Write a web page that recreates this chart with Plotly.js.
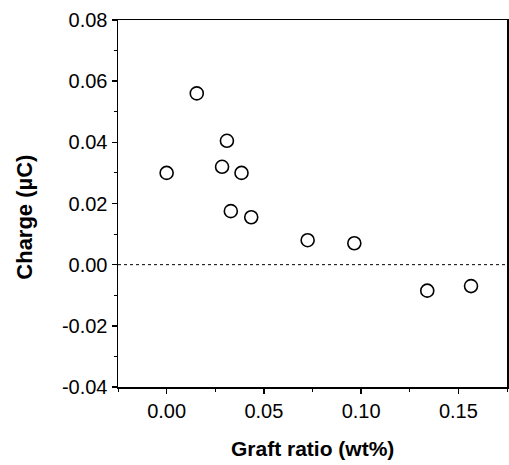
<!DOCTYPE html>
<html>
<head>
<meta charset="utf-8">
<script src="https://cdn.plot.ly/plotly-3.0.1.min.js"></script>
<style>html,body{margin:0;padding:0;background:#fff;}#chart{width:509px;height:465px;}</style>
</head>
<body>
<div id="chart"></div>
<script>
const graftRatio = [0.000, 0.0155, 0.031, 0.0285, 0.0385, 0.033, 0.0435, 0.0725, 0.0965, 0.134, 0.1565];
const charge = [0.030, 0.056, 0.0405, 0.032, 0.030, 0.0175, 0.0155, 0.008, 0.007, -0.0085, -0.007];
const xTicks = [0.00, 0.05, 0.10, 0.15];
const xTickLabels = ["0.00", "0.05", "0.10", "0.15"];
const yTicks = [-0.04, -0.02, 0.00, 0.02, 0.04, 0.06, 0.08];
const yTickLabels = ["-0.04", "-0.02", "0.00", "0.02", "0.04", "0.06", "0.08"];
const xTitle = "Graft ratio (wt%)";
const yTitle = "Charge (µC)";

const font = "Liberation Sans, Arial, sans-serif";
const trace = {
  x: graftRatio, y: charge, type: "scatter", mode: "markers",
  marker: {symbol: "circle-open", size: 13, color: "#000", line: {width: 1.6, color: "#000"}},
  showlegend: false, hoverinfo: "skip"
};
const layout = {
  width: 509, height: 465,
  margin: {l: 118, r: 2, t: 20, b: 78},
  paper_bgcolor: "#fff", plot_bgcolor: "#fff",
  font: {family: font, color: "#000", size: 20},
  xaxis: {
    range: [-0.025, 0.175], tickmode: "array", tickvals: xTicks, ticktext: xTickLabels,
    ticks: "outside", ticklen: 5, tickwidth: 1.5, tickcolor: "#000",
    minor: {dtick: 0.025, ticks: "outside", ticklen: 3, tickwidth: 1, tickcolor: "#000"},
    showline: true, linecolor: "#000", linewidth: 1.5, mirror: true,
    showgrid: false, zeroline: false,
    tickfont: {family: font, size: 20, color: "#000"}
  },
  yaxis: {
    range: [-0.04, 0.08], tickmode: "array", tickvals: yTicks, ticktext: yTickLabels,
    ticks: "outside", ticklen: 5, tickwidth: 1.5, tickcolor: "#000",
    minor: {dtick: 0.01, ticks: "outside", ticklen: 3, tickwidth: 1, tickcolor: "#000"},
    showline: true, linecolor: "#000", linewidth: 1.5, mirror: true,
    showgrid: false, zeroline: false,
    tickfont: {family: font, size: 20, color: "#000"}
  },
  annotations: [
    {text: "<b>" + xTitle + "</b>", xref: "paper", yref: "paper", x: 0.501, y: -0.168,
     xanchor: "center", yanchor: "middle", showarrow: false,
     font: {family: font, size: 21, color: "#000"}},
    {text: "<b>" + yTitle + "</b>", xref: "paper", yref: "paper", x: -0.241, y: 0.462,
     xanchor: "center", yanchor: "middle", showarrow: false, textangle: -90,
     font: {family: font, size: 22, color: "#000"}}
  ],
  shapes: [{type: "line", xref: "paper", x0: 0, x1: 1, yref: "y", y0: 0, y1: 0,
            line: {color: "#000", width: 1, dash: "dot"}}]
};
Plotly.newPlot("chart", [trace], layout, {displayModeBar: false, staticPlot: true});
</script>
</body>
</html>
